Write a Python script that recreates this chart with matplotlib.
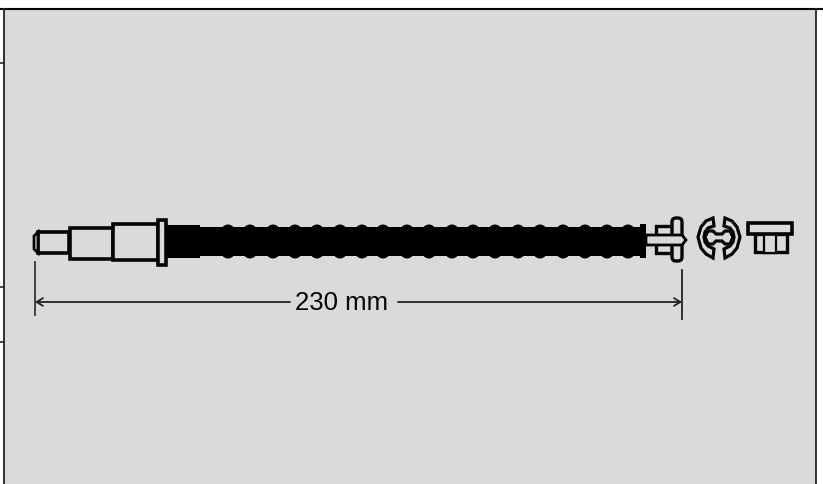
import matplotlib
matplotlib.use("Agg")
import matplotlib.pyplot as plt
from matplotlib.patches import Ellipse, Rectangle, Polygon, FancyBboxPatch

BG = "#d9dadc"
INK = "#050505"

# panel frame and the stubs left of it (pixels)
frame_left, frame_right, frame_top = 4.5, 816.5, 8.5
stub_y = [63, 287, 342]

# connector steps: x0, x1, y0, y1
steps = [
    (38, 69, 232, 253),
    (70, 113, 228, 259),
    (113, 158, 224, 260),
    (158, 166, 220, 265),
]
tip_x = [38, 34, 34, 38]
tip_y = [232, 236, 249, 253]

# corrugated tube
tube_x0, tube_x1 = 166, 646
tube_top, tube_bottom = 227, 256
collar_x1 = 200
collar_top, collar_bottom = 225, 258
bump_centres = [228, 250, 273, 295, 317, 340, 362, 383, 407, 429, 452, 473,
                495, 518, 540, 563, 585, 607, 628]
end_cap = (640, 646, 224, 258)

# T shaped end piece on the tube
head = (672, 682, 218, 261)
pin_x = [646, 682, 686, 682, 646]
pin_y = [235, 235, 240, 245, 245]
socket = (656, 672, 226, 253)

# clip, right half is the mirror of the left half
clip_centre = 719
clip_half_x = [713, 706, 701, 698, 701, 706, 713, 714, 708, 705, 704, 705, 708, 714]
clip_half_y = [218, 221, 227, 237, 248, 254, 258, 249, 246, 242, 237, 232, 228, 226]
bone_x = [708, 713, 716, 722, 725, 730, 733, 730, 725, 722, 716, 713, 708, 705]
bone_y = [231, 231, 234, 234, 231, 231, 237, 244, 244, 241, 241, 244, 244, 237]

# cap drawn at the far right
cap_top = (748, 792, 223, 234)
cap_lower = (755, 787, 234, 252)
cap_post = (764, 776, 234, 253)

# dimension
dim_y = 302
dim_left, dim_right = 35, 682
dim_left_span = (262, 315)
dim_right_span = (270, 319)
dim_label = "230 mm"
label_x = 342
gap_left, gap_right = 290, 398


def box(ax, spec, fc=BG, lw=2.6, z=3):
    x0, x1, y0, y1 = spec
    ax.add_patch(Rectangle((x0, y0), x1 - x0, y1 - y0, fc=fc, ec=INK, lw=lw, zorder=z))


fig = plt.figure(figsize=(8.23, 4.84), dpi=100, facecolor="white")
ax = fig.add_axes([0, 0, 1, 1])
ax.set_xlim(0, 823)
ax.set_ylim(484, 0)
ax.axis("off")

ax.add_patch(Rectangle((frame_left, frame_top), frame_right - frame_left, 484 - frame_top,
                       fc=BG, ec="none", zorder=0))
ax.plot([0, 823], [frame_top, frame_top], color=INK, lw=1.5, zorder=1)
ax.plot([frame_left, frame_left], [frame_top, 484], color="#222222", lw=1.3, zorder=1)
ax.plot([frame_right, frame_right], [frame_top, 484], color="#222222", lw=1.3, zorder=1)
for y in stub_y:
    ax.plot([0, frame_left], [y, y], color="#222222", lw=1.2, zorder=1)

for s in steps:
    box(ax, s)
ax.add_patch(Polygon(list(zip(tip_x, tip_y)), closed=True, fc=BG, ec=INK, lw=2.0, zorder=3))

ax.add_patch(Rectangle((tube_x0, tube_top), tube_x1 - tube_x0, tube_bottom - tube_top,
                       fc="black", ec="none", zorder=2))
ax.add_patch(Rectangle((tube_x0, collar_top), collar_x1 - tube_x0, collar_bottom - collar_top,
                       fc="black", ec="none", zorder=2))
for cx in bump_centres:
    ax.add_patch(Ellipse((cx, (tube_top + tube_bottom) / 2), 21, 34, fc="black", ec="none", zorder=2))
ax.add_patch(Rectangle((end_cap[0], end_cap[2]), end_cap[1] - end_cap[0], end_cap[3] - end_cap[2],
                       fc="black", ec="none", zorder=2))

box(ax, socket, lw=2.4)
ax.add_patch(FancyBboxPatch((head[0] + 3, head[2] + 3), head[1] - head[0] - 6, head[3] - head[2] - 6,
                            boxstyle="round,pad=3,rounding_size=4", fc=BG, ec=INK, lw=2.4, zorder=4))
ax.add_patch(Polygon(list(zip(pin_x, pin_y)), closed=True, fc=BG, ec=INK, lw=2.0, zorder=5))

for side in (1, -1):
    xs = [clip_centre + side * (x - clip_centre) for x in clip_half_x]
    ax.add_patch(Polygon(list(zip(xs, clip_half_y)), closed=True, fc=BG, ec=INK, lw=2.3, zorder=3))
ax.add_patch(Polygon(list(zip(bone_x, bone_y)), closed=True, fc=BG, ec=INK, lw=2.3, zorder=4))

box(ax, cap_lower, lw=2.4)
box(ax, cap_post, lw=1.6)
box(ax, cap_top, lw=2.6, z=4)

ax.plot([dim_left, dim_left], dim_left_span, color="#333333", lw=1.3, zorder=2)
ax.plot([dim_right, dim_right], dim_right_span, color="#222222", lw=1.3, zorder=2)
arrow = dict(arrowstyle="->,head_length=0.45,head_width=0.28", color="#222222", lw=1.3,
             shrinkA=0, shrinkB=0)
ax.annotate("", xy=(dim_left, dim_y), xytext=(gap_left, dim_y), arrowprops=arrow)
ax.annotate("", xy=(dim_right, dim_y), xytext=(gap_right, dim_y), arrowprops=arrow)
ax.text(label_x, dim_y + 1.5, dim_label, ha="center", va="center", fontsize=18.5,
        family="Liberation Sans", color="#050505")

fig.savefig("out.png", dpi=100)
